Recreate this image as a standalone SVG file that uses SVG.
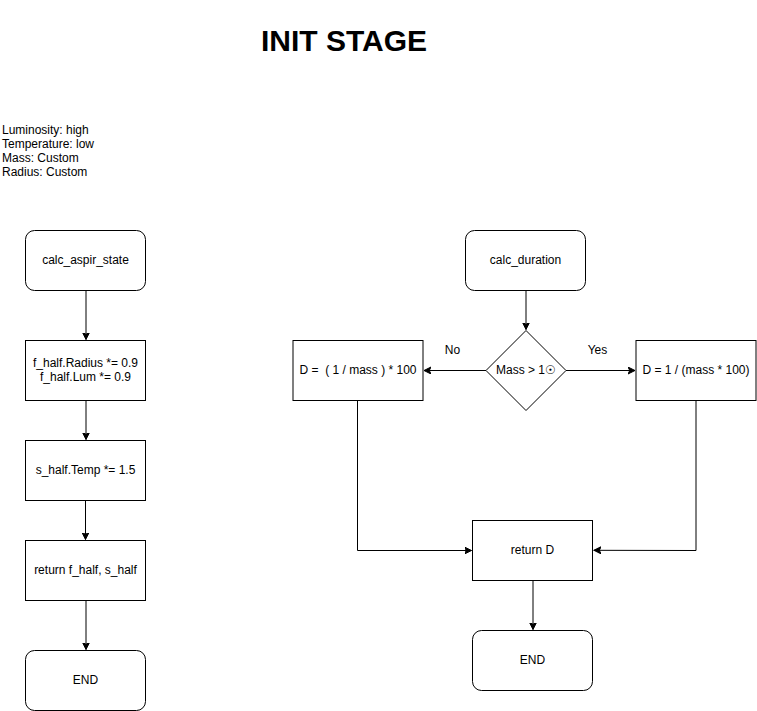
<svg xmlns="http://www.w3.org/2000/svg" width="757" height="711" viewBox="0 0 757 711">
<defs>
<marker id="arr" markerWidth="10" markerHeight="10" refX="7" refY="3.5" orient="auto" markerUnits="userSpaceOnUse">
<path d="M0,0 L7,3.5 L0,7 L1.75,3.5 Z" fill="#000" stroke="#000" stroke-width="1"/>
</marker>
</defs>
<style>
.box{fill:#fff;stroke:#000;stroke-width:1}
.t{font-family:"Liberation Sans",Arial,sans-serif;font-size:12px;fill:#000}
.c{text-anchor:middle}
.edge{fill:none;stroke:#000;stroke-width:1;marker-end:url(#arr)}
</style>
<rect width="757" height="711" fill="#fff"/>
<text x="344" y="51" class="t c" style="font-size:30px;font-weight:bold">INIT STAGE</text>
<g id="info">
<text class="t" x="2" y="134">Luminosity: high</text>
<text class="t" x="2" y="148">Temperature: low</text>
<text class="t" x="2" y="162">Mass: Custom</text>
<text class="t" x="2" y="176">Radius: Custom</text>
</g>
<g id="connectors">
<path class="edge" d="M86,290.5 V339.5"/>
<path class="edge" d="M86,400.5 V439.5"/>
<path class="edge" d="M85.5,500.5 V539.5"/>
<path class="edge" d="M86,600.5 V649.5"/>
<path class="edge" d="M526,290.5 V329.5"/>
<path class="edge" d="M486,370.5 H424"/>
<path class="edge" d="M566,370.5 H635"/>
<path class="edge" d="M357.5,400.5 V550.5 H471.5"/>
<path class="edge" d="M696,400.5 V550.5 L594,550.3"/>
<path class="edge" d="M533,580.5 V629.5"/>
<text class="t c" x="452.5" y="354">No</text>
<text class="t c" x="597.5" y="354">Yes</text>
</g>
<g id="calc_aspir_state">
<rect class="box" x="25.5" y="230.5" width="120" height="60" rx="9"/>
<text class="t c" x="85.5" y="264">calc_aspir_state</text>
</g>
<g id="f_half">
<rect class="box" x="25.5" y="340.5" width="120" height="60"/>
<text class="t c" x="85.5" y="367">f_half.Radius *= 0.9</text>
<text class="t c" x="85.5" y="381">f_half.Lum *= 0.9</text>
</g>
<g id="s_half">
<rect class="box" x="25.5" y="440.5" width="120" height="60"/>
<text class="t c" x="85.5" y="474">s_half.Temp *= 1.5</text>
</g>
<g id="return_halves">
<rect class="box" x="25.5" y="540.5" width="120" height="60"/>
<text class="t c" x="85.5" y="574">return f_half, s_half</text>
</g>
<g id="end_left">
<rect class="box" x="25.5" y="650.5" width="120" height="60" rx="9"/>
<text class="t c" x="85.5" y="684">END</text>
</g>
<g id="calc_duration">
<rect class="box" x="465.5" y="230.5" width="120" height="60" rx="9"/>
<text class="t c" x="525.5" y="264">calc_duration</text>
</g>
<g id="decision">
<path class="box" d="M526,330.5 L566,370.5 L526,410.5 L486,370.5 Z"/>
<text class="t c" x="526" y="374">Mass &gt; 1☉</text>
</g>
<g id="d_no">
<rect class="box" x="293" y="340.5" width="130" height="60"/>
<text class="t c" x="358" y="374" xml:space="preserve">D =  ( 1 / mass ) * 100</text>
</g>
<g id="d_yes">
<rect class="box" x="636" y="340.5" width="120" height="60"/>
<text class="t c" x="696" y="374">D = 1 / (mass * 100)</text>
</g>
<g id="return_d">
<rect class="box" x="472.5" y="520.5" width="120" height="60"/>
<text class="t c" x="532.5" y="554">return D</text>
</g>
<g id="end_right">
<rect class="box" x="472.5" y="630.5" width="120" height="60" rx="9"/>
<text class="t c" x="532.5" y="664">END</text>
</g>
</svg>
